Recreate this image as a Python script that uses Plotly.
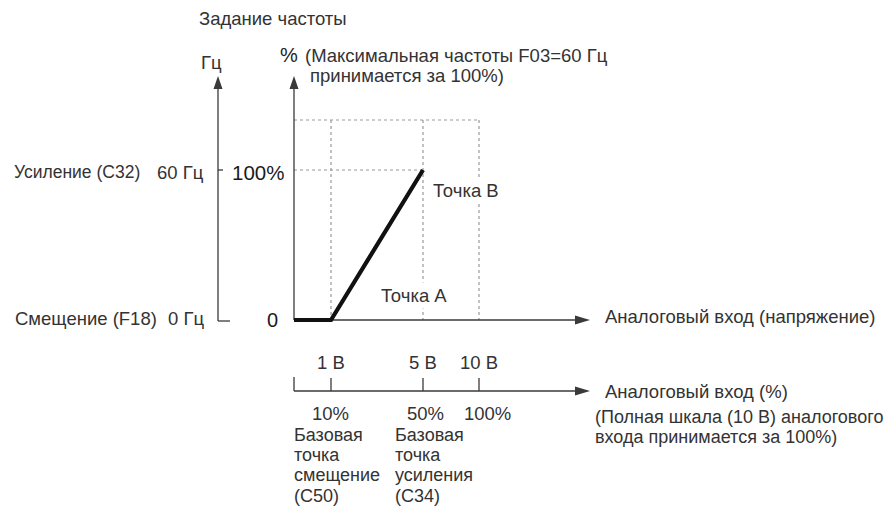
import numpy as np
import plotly.graph_objects as go

# ---------------- data ----------------
input_volts = [0, 1, 5, 10]            # analog input points (V)
volt_tick_labels = ["1 В", "5 В", "10 В"]
pct_tick_labels = ["10%", "50%", "100%"]
curve_volts = [0, 1, 5]                # frequency-setting curve: input (V)
curve_output_pct = [0, 0, 100]         # frequency-setting curve: output (%)
freq_labels = ["60 Гц", "0 Гц"]
freq_names = ["Усиление (C32)", "Смещение (F18)"]

# ---------------- schematic layout (pixel space) ----------------
W, H = 892, 522
X_ANCHOR_PX = [294, 331, 423, 479]     # schematic x positions of input_volts
Y0, Y_PER_PCT = 320, 1.5               # output % -> y pixels


def xs(v):
    return np.interp(v, input_volts, X_ANCHOR_PX)


def ys(p):
    return Y0 - np.asarray(p, dtype=float) * Y_PER_PCT


FONT = "Liberation Sans, Arial, sans-serif"
TXT = "#333333"
AX = "#3a3a3a"
DOT = "#9a9a9a"
FS = 18.5

fig = go.Figure()
shapes = []
ann = []


def line(x0, y0, x1, y1, color=AX, width=1.3, dash="solid"):
    shapes.append(dict(type="line", xref="x", yref="y", x0=x0, y0=y0, x1=x1, y1=y1,
                       line=dict(color=color, width=width, dash=dash), layer="below"))


def arrow_up(x, tip):
    shapes.append(dict(type="path", xref="x", yref="y",
                       path=f"M {x} {tip} L {x-4.5} {tip+13} L {x+4.5} {tip+13} Z",
                       fillcolor=AX, line=dict(width=0)))


def arrow_right(tip, y):
    shapes.append(dict(type="path", xref="x", yref="y",
                       path=f"M {tip} {y} L {tip-15} {y-4.5} L {tip-15} {y+4.5} Z",
                       fillcolor=AX, line=dict(width=0)))


def text(x, y, s, anchor="left", size=FS, color=TXT, bg=None):
    a = dict(x=x, y=y, xref="x", yref="y", text=s, showarrow=False,
             xanchor=anchor, yanchor="middle",
             font=dict(family=FONT, size=size, color=color))
    if bg:
        a["bgcolor"] = bg
        a["borderpad"] = 2
    ann.append(a)


x_end = 590
y_top_axis = 76
y100 = float(ys(100))
y_guide = 120
x10 = float(xs(10))
x5 = float(xs(5))
x1 = float(xs(1))
x0 = float(xs(0))

# dotted guide lines
line(x0, y_guide, x10, y_guide, DOT, 1.2, "dot")
for v in input_volts[1:]:
    line(float(xs(v)), y_guide, float(xs(v)), Y0, DOT, 1.2, "dot")
line(x0, y100, x5, y100, DOT, 1.2, "dot")

# Hz axis
x_hz = 218
line(x_hz, Y0 + 1, x_hz, y_top_axis + 8)
arrow_up(x_hz, y_top_axis)
line(x_hz, y100, x_hz + 5, y100)
line(x_hz, Y0 + 1, x_hz + 12, Y0 + 1)

# % axis and main input axis
line(x0, Y0, x0, y_top_axis + 8)
arrow_up(x0, y_top_axis)
line(x0, Y0, x_end - 8, Y0)
arrow_right(x_end, Y0)

# second (percent) input axis
y2 = 391
line(x0, y2, x_end - 8, y2)
arrow_right(x_end, y2)
line(x0, y2, x0, y2 - 14)
for v in input_volts[1:]:
    line(float(xs(v)), y2, float(xs(v)), y2 - 13)

# curve
fig.add_trace(go.Scatter(x=xs(curve_volts), y=ys(curve_output_pct), mode="lines",
                         line=dict(color="#111111", width=4.2), hoverinfo="skip",
                         showlegend=False))

# texts
text(197, 18, "Задание частоты")
text(211, 62, "Гц", anchor="center")
text(289, 55, "%", anchor="center", size=20, color="#222")
text(303, 55, "(Максимальная частоты F03=60 Гц")
text(308, 75, "принимается за 100%)")
text(12, y100 + 2, freq_names[0], size=17.5)
text(206, y100 + 2, freq_labels[0], anchor="right")
text(286, y100 + 2, "100%", anchor="right", size=20.5, color="#1a1a1a")
text(13, Y0 - 2, freq_names[1])
text(206, Y0 - 2, freq_labels[1], anchor="right")
text(272, Y0, "0", anchor="center", size=20, color="#1a1a1a")
text(430, 190, "Точка B", bg="white")
text(378, 295, "Точка A", bg="white")
text(603, 316, "Аналоговый вход (напряжение)")
for v, lab in zip(input_volts[1:], volt_tick_labels):
    text(float(xs(v)), 362, lab, anchor="center")
text(603, 391, "Аналоговый вход (%)")
pct_offsets = [-1, 2, 8]
for v, lab, o in zip(input_volts[1:], pct_tick_labels, pct_offsets):
    text(float(xs(v)) + o, 413, lab, anchor="center", size=18.5)
text(593, 417, "(Полная шкала (10 В) аналогового", size=18)
text(593, 437, "входа принимается за 100%)", size=18)
for i, s in enumerate(["Базовая", "точка", "смещение", "(C50)"]):
    text(292, 435 + i * 20.2, s, size=18)
for i, s in enumerate(["Базовая", "точка", "усиления", "(C34)"]):
    text(393, 435 + i * 20.2, s, size=18)

fig.update_layout(
    width=W, height=H, autosize=False,
    margin=dict(l=0, r=0, t=0, b=0),
    paper_bgcolor="white", plot_bgcolor="white",
    xaxis=dict(range=[0, W], visible=False, fixedrange=True),
    yaxis=dict(range=[H, 0], visible=False, fixedrange=True),
    shapes=shapes, annotations=ann, showlegend=False,
)

fig.write_html("out.html", post_script="document.body.style.margin='0';",
               config={"displayModeBar": False})
